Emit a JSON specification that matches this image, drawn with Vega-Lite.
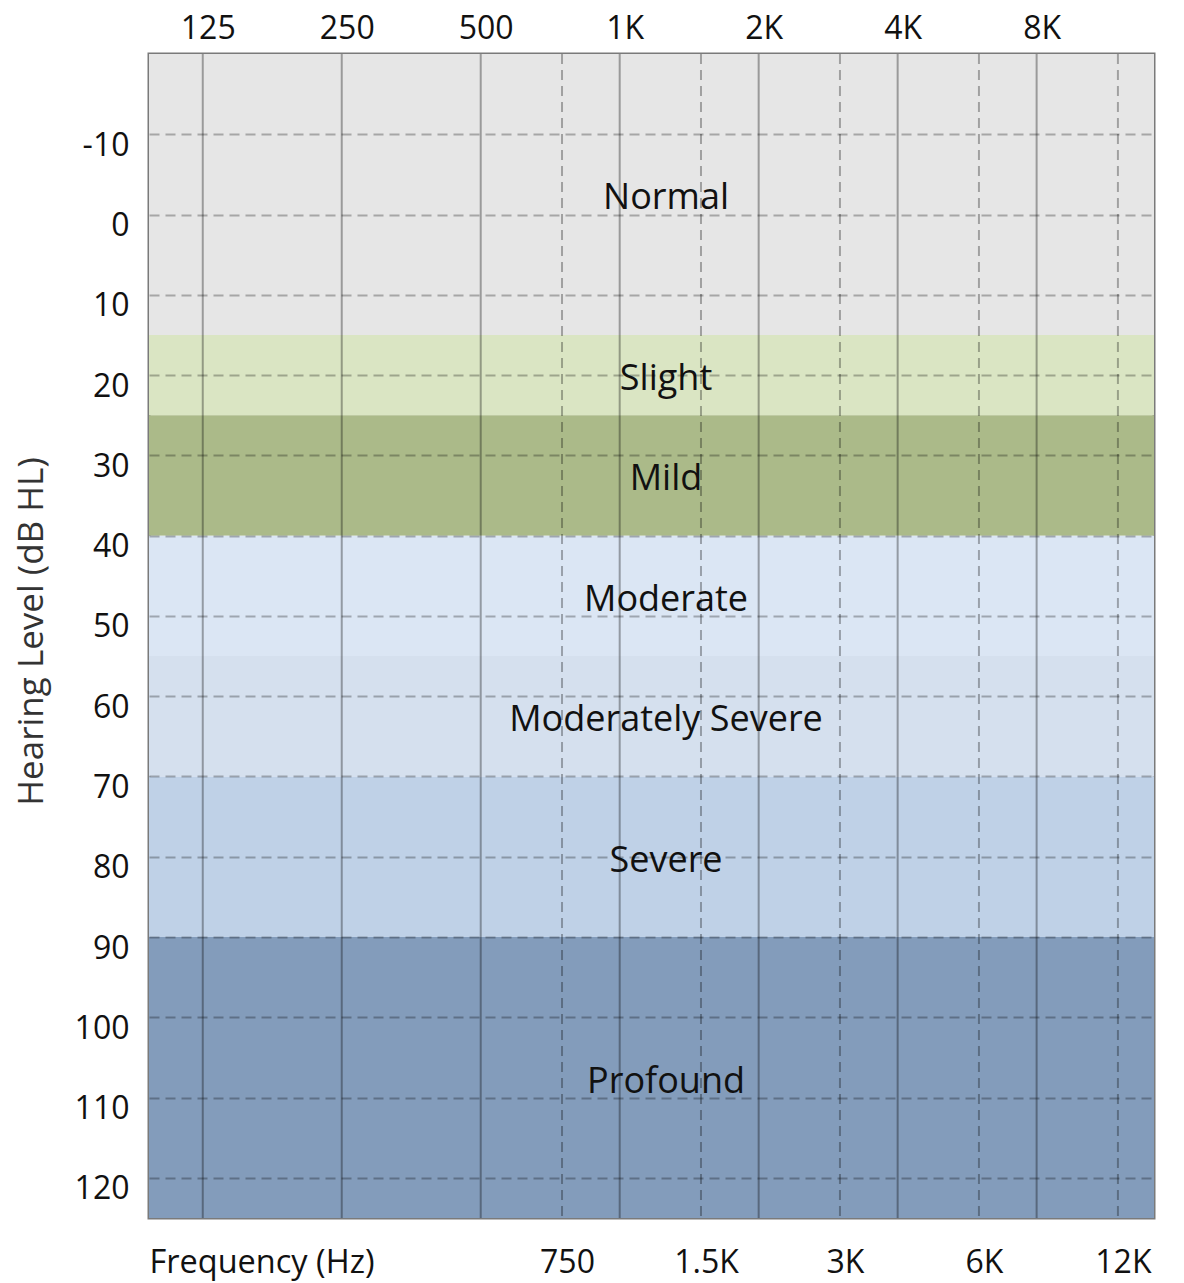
{
  "$schema": "https://vega.github.io/schema/vega-lite/v6.json",
  "width": 1005,
  "height": 1164,
  "autosize": {"type": "none"},
  "padding": {"left": 149, "top": 54, "right": 30, "bottom": 65},
  "background": "white",
  "config": {
    "font": "Open Sans",
    "view": {"stroke": "#7a7a7a", "strokeWidth": 3},
    "axis": {"labelFont": "Open Sans", "titleFont": "Open Sans", "labelColor": "#111111", "titleColor": "#111111", "domain": false, "ticks": false}
  },
  "datasets": {
    "bands": [
      {"band": "Normal", "lo": -20, "hi": 15, "mid": -2.5},
      {"band": "Slight", "lo": 15, "hi": 25, "mid": 20},
      {"band": "Mild", "lo": 25, "hi": 40, "mid": 32.5},
      {"band": "Moderate", "lo": 40, "hi": 55, "mid": 47.5},
      {"band": "Moderately Severe", "lo": 55, "hi": 70, "mid": 62.5},
      {"band": "Severe", "lo": 70, "hi": 90, "mid": 80},
      {"band": "Profound", "lo": 90, "hi": 125, "mid": 107.5}
    ],
    "octaves": [{"f": 125}, {"f": 250}, {"f": 500}, {"f": 1000}, {"f": 2000}, {"f": 4000}, {"f": 8000}],
    "halves": [{"f": 750}, {"f": 1500}, {"f": 3000}, {"f": 6000}, {"f": 12000}]
  },
  "layer": [
    {
      "data": {"name": "bands"},
      "mark": {"type": "rect"},
      "encoding": {
        "y": {
          "field": "lo", "type": "quantitative",
          "scale": {"domain": [-20, 125], "reverse": true, "nice": false, "zero": false},
          "axis": {
            "orient": "left",
            "values": [-10, 0, 10, 20, 30, 40, 50, 60, 70, 80, 90, 100, 110, 120],
            "labelExpr": "datum.value + ''",
            "grid": true, "gridColor": "black", "gridOpacity": 0.28, "gridWidth": 2, "gridDash": [10, 6],
            "zindex": 1,
            "labelFontSize": 32, "labelPadding": 20, "labelOffset": 11, "labelBaseline": "middle",
            "title": "Hearing Level (dB HL)", "titleFontSize": 35, "titleFontWeight": "normal", "titleColor": "#333333",
            "titleX": -118, "titleY": 577, "titleAngle": -90, "titleAlign": "center", "titleBaseline": "middle"
          }
        },
        "y2": {"field": "hi"},
        "color": {
          "field": "band", "type": "nominal",
          "scale": {
            "domain": ["Normal", "Slight", "Mild", "Moderate", "Moderately Severe", "Severe", "Profound"],
            "range": ["#e6e6e6", "#dae5c3", "#abba89", "#dbe6f4", "#d5e0ee", "#bfd1e7", "#839cbb"]
          },
          "legend": null
        }
      }
    },
    {
      "data": {"name": "octaves"},
      "mark": {"type": "rule", "stroke": "black", "strokeOpacity": 0.33, "strokeWidth": 2},
      "encoding": {
        "x": {
          "field": "f", "type": "quantitative",
          "scale": {"type": "log", "domain": [95.6, 14366], "nice": false},
          "axis": {
            "orient": "top", "values": [125, 250, 500, 1000, 2000, 4000, 8000],
            "labelExpr": "datum.value >= 1000 ? (datum.value / 1000) + 'K' : datum.value + ''",
            "grid": false, "labelFontSize": 32, "labelPadding": 26, "labelOffset": 5, "labelBaseline": "middle",
            "title": null
          }
        }
      }
    },
    {
      "data": {"name": "halves"},
      "mark": {"type": "rule", "stroke": "black", "strokeOpacity": 0.3, "strokeWidth": 2, "strokeDash": [10, 6]},
      "encoding": {
        "x": {
          "field": "f", "type": "quantitative",
          "axis": {
            "orient": "bottom", "values": [750, 1500, 3000, 6000, 12000],
            "labelExpr": "datum.value >= 1000 ? (datum.value / 1000) + 'K' : datum.value + ''",
            "grid": false, "labelFontSize": 32, "labelPadding": 44, "labelOffset": 5, "labelBaseline": "middle",
            "title": "Frequency (Hz)", "titleFontSize": 32.5, "titleFontWeight": "normal",
            "titleX": 0, "titleY": 44, "titleAlign": "left", "titleAnchor": "start", "titleBaseline": "middle"
          }
        }
      }
    },
    {
      "data": {"name": "bands"},
      "mark": {"type": "text", "fontSize": 36, "color": "#111111", "baseline": "middle", "align": "center", "dy": 4},
      "encoding": {
        "x": {"datum": 1260, "type": "quantitative", "axis": null},
        "y": {"field": "mid", "type": "quantitative"},
        "text": {"field": "band"}
      }
    }
  ]
}
